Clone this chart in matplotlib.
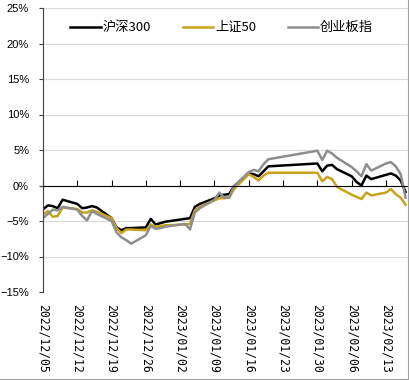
import numpy as np
import pandas as pd
import matplotlib
matplotlib.use('Agg')
import matplotlib.pyplot as plt
from matplotlib.lines import Line2D

# trading days shown in the chart
dates = pd.to_datetime([
    '2022-12-05', '2022-12-06', '2022-12-07', '2022-12-08', '2022-12-09',
    '2022-12-12', '2022-12-13', '2022-12-14', '2022-12-15', '2022-12-16',
    '2022-12-19', '2022-12-20', '2022-12-21', '2022-12-22', '2022-12-23',
    '2022-12-26', '2022-12-27', '2022-12-28', '2022-12-29', '2022-12-30',
    '2023-01-03', '2023-01-04', '2023-01-05', '2023-01-06',
    '2023-01-09', '2023-01-10', '2023-01-11', '2023-01-12', '2023-01-13',
    '2023-01-16', '2023-01-17', '2023-01-18', '2023-01-19', '2023-01-20',
    '2023-01-30', '2023-01-31', '2023-02-01', '2023-02-02', '2023-02-03',
    '2023-02-06', '2023-02-07', '2023-02-08', '2023-02-09', '2023-02-10',
    '2023-02-13', '2023-02-14', '2023-02-15', '2023-02-16', '2023-02-17',
])

# cumulative returns, %
hs300 = [-3.35, -2.8, -2.9, -3.2, -2.0,
         -2.6, -3.2, -3.1, -2.9, -3.1,
         -4.6, -5.9, -6.3, -6.0, -6.0,
         -5.9, -4.7, -5.5, -5.3, -5.1,
         -4.7, -4.6, -3.0, -2.6,
         -1.8, -1.4, -1.3, -1.2, -0.1,
         1.7, 1.6, 1.3, 2.0, 2.7,
         3.1, 2.0, 2.8, 2.9, 2.3,
         1.3, 0.5, 0.0, 1.4, 0.9,
         1.5, 1.7, 1.4, 0.7, -0.9]

sz50 = [-4.1, -3.6, -4.4, -4.3, -3.1,
        -3.3, -3.8, -3.8, -3.5, -3.7,
        -4.6, -6.0, -6.7, -6.2, -6.2,
        -6.3, -5.5, -5.8, -5.7, -5.6,
        -5.5, -5.4, -3.5, -3.0,
        -2.1, -1.8, -1.8, -1.7, -0.5,
        1.6, 1.2, 0.7, 1.4, 1.8,
        1.8, 0.6, 1.2, 0.9, -0.2,
        -1.3, -1.6, -1.9, -1.0, -1.4,
        -1.0, -0.5, -1.2, -1.7, -2.7]

cyb = [-4.6, -4.0, -3.4, -3.5, -3.0,
       -3.4, -4.3, -4.9, -3.6, -4.0,
       -5.0, -6.6, -7.3, -7.7, -8.2,
       -7.0, -5.7, -6.1, -6.0, -5.8,
       -5.4, -6.2, -3.8, -3.2,
       -2.0, -1.0, -1.7, -1.7, -0.1,
       1.9, 2.2, 2.0, 3.0, 3.7,
       4.9, 3.6, 4.9, 4.5, 3.9,
       2.6, 2.0, 1.3, 3.0, 2.1,
       3.1, 3.3, 2.7, 1.6, -1.7]

names = ['沪深300', '上证50', '创业板指']
colors = ['#000000', '#C9A21C', '#8E8E8E']

plt.rcParams['font.family'] = ['Liberation Sans', 'Noto Sans CJK SC', 'DejaVu Sans']

fig = plt.figure(figsize=(4.1, 3.8), dpi=100)
ax = fig.add_axes([43 / 410, 88 / 380, 365 / 410, 284 / 380])

for series, name, color in zip([hs300, sz50, cyb], names, colors):
    ax.plot(dates, series, color=color, lw=1.8, label=name)

# x axis line sits on 0%, must be moved before the ticks are set
ax.spines['bottom'].set_position(('data', 0))
ax.spines['bottom'].set_color('#000000')
ax.spines['bottom'].set_linewidth(0.8)
ax.spines['left'].set_color('#404040')
ax.spines['left'].set_linewidth(0.8)
ax.spines['top'].set_visible(False)
ax.spines['right'].set_visible(False)

start = pd.Timestamp('2022-12-05')
ax.set_xlim(start, start + pd.Timedelta(days=74.5))
ax.set_ylim(-15, 25)

ax.set_yticks(range(-15, 26, 5))
ax.set_yticklabels(['%d%%' % v if v >= 0 else '\u2212%d%%' % -v for v in range(-15, 26, 5)])
ax.yaxis.grid(True, color='#D9D9D9', lw=0.8)
ax.set_axisbelow(True)
ax.tick_params(axis='y', direction='out', length=3, width=0.8, color='#404040',
               labelsize=8, pad=7)

ticks = pd.date_range('2022-12-05', '2023-02-13', freq='7D')
ax.set_xticks(ticks)
ax.set_xticklabels([t.strftime('%Y/%m/%d') for t in ticks], rotation=270,
                   family='DejaVu Sans Mono', fontsize=8.3, va='top', ha='center')
ax.tick_params(axis='x', direction='in', length=4, width=0.8, pad=85)

ax.legend(loc='upper left', bbox_to_anchor=(0.06, 0.972), ncol=3, frameon=False,
          prop={'family': ['Noto Sans CJK SC', 'DejaVu Sans'], 'size': 9.5},
          handlelength=2.3, handletextpad=0.15, columnspacing=2.4, borderaxespad=0)

# picture border on right and bottom
fig.add_artist(Line2D([408.5 / 410, 408.5 / 410], [0, 1], color='#A0A0A0', lw=0.8))
fig.add_artist(Line2D([0, 1], [1.5 / 380, 1.5 / 380], color='#A0A0A0', lw=0.8))

fig.savefig('out.png', dpi=100)
